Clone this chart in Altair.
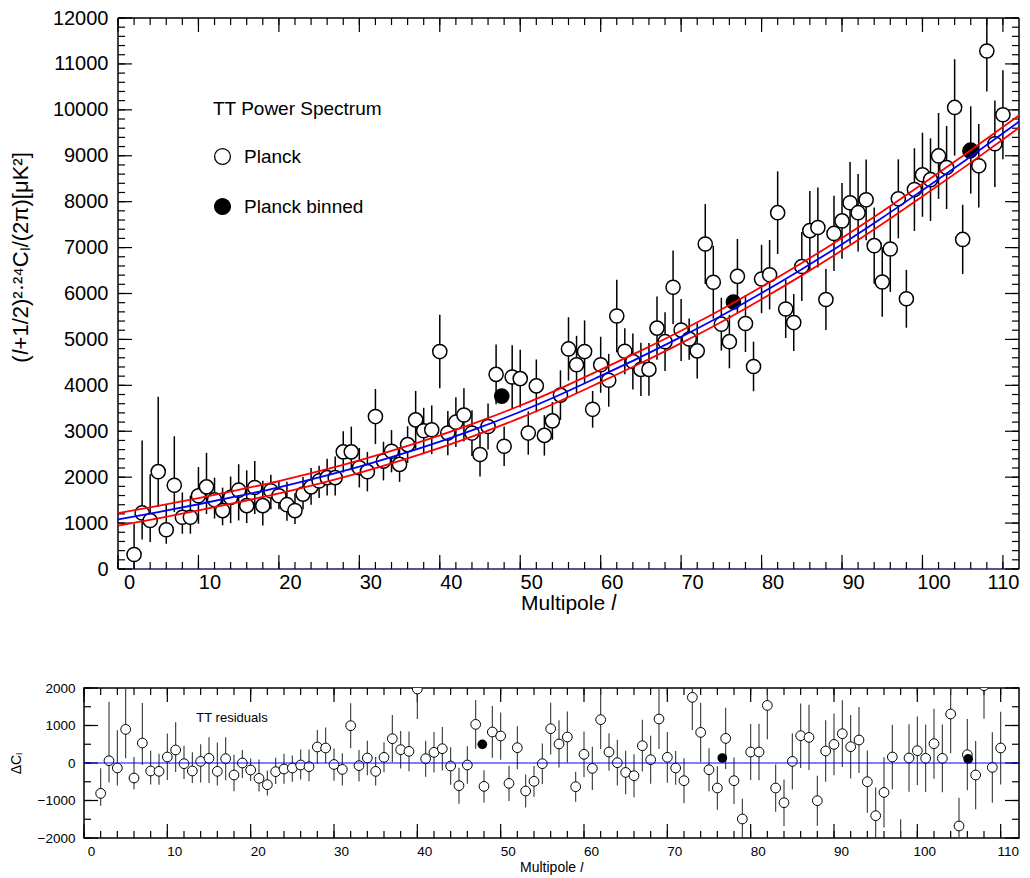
import altair as alt
import pandas as pd

# ---------------- data ----------------
ell = list(range(2, 111))
tt = [316, 1221, 1056, 2120, 855, 1825, 1128, 1128, 1595, 1789,
      1509, 1272, 1559, 1717, 1380, 1775, 1380, 1703, 1595, 1401,
      1272, 1631, 1789, 1918, 1990, 1990, 2551, 2551, 2206, 2120,
      3320, 2350, 2565, 2278, 2709, 3248, 3011, 3032, 4735, 2960,
      3198, 3355, 2960, 2493, 3104, 4239, 2673, 4182, 4146, 2960,
      3988, 2910, 3226, 3787, 4793, 4448, 4735, 3478, 4448, 4110,
      5511, 4742, 4519, 4347, 4347, 5246, 4951, 6136, 5203, 5008,
      4750, 7078, 6244, 5332, 4951, 6373, 5346, 4411, 6316, 6409,
      7760, 5662, 5367, 6589, 7370, 7437, 5870, 7308, 7581, 7976,
      7760, 8040, 7042, 6251, 6970, 8062, 5885, 8263, 8586, 8479,
      8996, 8745, 10052, 7178, 9126, 8781, 11281, 9262, 9894]
err_minus = [330, 580, 470, 770, 305, 585, 360, 360, 610, 590,
             410, 320, 560, 660, 380, 575, 430, 400, 295, 350,
             290, 330, 390, 370, 390, 390, 450, 400, 430, 430,
             600, 420, 460, 380, 400, 630, 500, 530, 800, 480,
             540, 580, 500, 480, 500, 650, 430, 690, 630, 470,
             575, 440, 410, 540, 690, 630, 680, 400, 610, 575,
             790, 500, 610, 580, 575, 690, 640, 800, 675, 450,
             600, 870, 790, 575, 580, 815, 620, 540, 745, 755,
             900, 630, 620, 750, 860, 870, 665, 820, 825, 890,
             845, 880, 830, 755, 935, 860, 630, 900, 915, 900,
             935, 905, 1050, 755, 950, 910, 880, 940, 970]
err_plus = [670, 1575, 1005, 1630, 560, 1065, 540, 470, 625, 740,
            480, 500, 455, 565, 770, 575, 540, 350, 305, 500,
            380, 370, 410, 330, 410, 460, 450, 550, 430, 430,
            600, 420, 460, 380, 400, 630, 500, 530, 800, 480,
            540, 580, 500, 480, 500, 650, 430, 690, 630, 470,
            575, 440, 410, 540, 690, 630, 680, 400, 610, 575,
            790, 500, 610, 580, 575, 690, 640, 800, 675, 450,
            600, 870, 790, 575, 580, 815, 620, 540, 745, 755,
            900, 630, 620, 750, 860, 870, 665, 820, 825, 890,
            845, 880, 830, 755, 935, 860, 630, 900, 915, 900,
            935, 905, 1050, 755, 950, 910, 880, 940, 970]
residual = [-810, 61, -133, 897, -400, 533, -213, -222, 160, 347,
            -18, -213, 43, 124, -222, 115, -320, 0, -187, -409,
            -578, -231, -160, -133, -53, -98, 427, 400, -40, -170,
            995, -71, 133, -223, 151, 648, 355, 311, 1973, 115,
            284, 381, -80, -605, -53, 1030, -623, 827, 720, -543,
            408, -747, -489, -18, 915, 507, 693, -632, 231, -143,
            1155, 293, 8, -251, -339, 461, 88, 1173, 151, -133,
            -472, 1750, 816, -179, -667, 656, -472, -1493, 293, 293,
            1536, -667, -1059, 43, 728, 683, -1005, 320, 496, 781,
            435, 613, -499, -1405, -784, 160, -2130, 133, 328, 124,
            515, 124, 1307, -1680, 221, -320, 2061, -117, 400]

binned_ell_top = [47.7, 76.5, 105.9]
binned_tt = [3765, 5813, 9104]
binned_ell_res = [47.8, 76.6, 106.1]
binned_res = [497, 133, 107]

model_ell = [0, 5, 10, 15, 20, 25, 30, 35, 40, 45, 50, 55, 60, 65, 70,
             75, 80, 85, 90, 95, 100, 105, 110, 112]
model_mid = [1080, 1240, 1410, 1590, 1780, 1995, 2230, 2490, 2775, 3085,
             3425, 3800, 4205, 4620, 5055, 5515, 6010, 6530, 7075, 7650,
             8250, 8860, 9490, 9745]
model_upper = [1215, 1375, 1545, 1725, 1915, 2130, 2365, 2625, 2910, 3220,
               3560, 3935, 4340, 4755, 5190, 5650, 6145, 6665, 7210, 7785,
               8385, 8995, 9625, 9880]
model_lower = [945, 1105, 1275, 1455, 1645, 1860, 2095, 2355, 2640, 2950,
               3290, 3665, 4070, 4485, 4920, 5380, 5875, 6395, 6940, 7515,
               8115, 8725, 9355, 9610]

x_major = list(range(0, 111, 10))
x_minor = list(range(0, 111, 2))
y_major_top = list(range(0, 12001, 1000))
y_minor_top = list(range(0, 12001, 200))
y_major_res = list(range(-2000, 2001, 1000))
y_minor_res = list(range(-2000, 2001, 500))

FONT = "Liberation Sans"
W1, H1 = 935, 551          # top panel drawn inside a 935-wide area
INSET = 34                 # the top panel's frame starts 34 px in
W2, H2 = 935, 150

# ---------------- tables ----------------
pts = pd.DataFrame({"l": ell, "value": tt, "em": err_minus, "ep": err_plus,
                    "res": residual})
pts["lo"] = pts["value"] - pts["em"]
pts["hi"] = pts["value"] + pts["ep"]
pts["rlo"] = pts["res"] - pts["em"]
pts["rhi"] = pts["res"] + pts["ep"]
pts["series"] = "Planck"
binned_top = pd.DataFrame({"l": binned_ell_top, "value": binned_tt,
                           "series": "Planck binned"})
top_points = pd.concat([pts[["l", "value", "series"]], binned_top])
model = pd.DataFrame({"l": model_ell, "mid": model_mid, "up": model_upper,
                      "low": model_lower})
binned_r = pd.DataFrame({"l": binned_ell_res, "res": binned_res})

# ---------------- top chart ----------------
x_lo = -INSET * 116.2236 / W1
xs1 = alt.Scale(domain=[x_lo, 112], nice=False, zero=False)
ys1 = alt.Scale(domain=[0, 12000], nice=False, zero=False)
xaxis1 = alt.Axis(values=x_major, ticks=False, grid=False, domain=False,
                  labelFontSize=20,
                  labelOffset={"condition": {"test": "datum.value >= 110",
                                             "value": 16}, "value": 11},
                  labelAlign={"condition": {"test": "datum.value >= 110",
                                            "value": "right"},
                              "value": "center"},
                  labelPadding=3,
                  labelFlush=False, labelOverlap=False, labelColor="black",
                  title="Multipole 𝑙", titleFontSize=21,
                  titleFontWeight="normal", titlePadding=0,
                  titleColor="black", titleX=484, format="d")
yaxis1 = alt.Axis(values=y_major_top, ticks=False, grid=False, domain=False,
                  offset=-INSET,
                  labelFontSize=20, labelPadding=10, labelColor="black",
                  labelOverlap=False, format="d",
                  title="(𝑙+1/2)²·²⁴Cₗ/(2π)[μK²]", titleFontSize=22,
                  titleFontWeight="normal", titleColor="black",
                  titlePadding=20, minExtent=66, maxExtent=66, titleY=239)
X1 = alt.X("l:Q", scale=xs1, axis=xaxis1)


def Y1(field):
    return alt.Y(field, scale=ys1, axis=yaxis1)


def xtick_layers(X, H, major_len, minor_len):
    out = []
    for vals, ln in ((x_minor, minor_len), (x_major, major_len)):
        df = pd.DataFrame({"l": vals})
        out.append(alt.Chart(df).mark_rule(color="black", strokeWidth=1.2)
                   .encode(x=X, y=alt.value(H), y2=alt.value(H - ln)))
        out.append(alt.Chart(df).mark_rule(color="black", strokeWidth=1.2)
                   .encode(x=X, y=alt.value(0), y2=alt.value(ln)))
    return out


def ytick_layers(Yf, field, x_left, x_right, vals_minor, vals_major,
                 major_len, minor_len):
    out = []
    for vals, ln in ((vals_minor, minor_len), (vals_major, major_len)):
        df = pd.DataFrame({field: vals})
        out.append(alt.Chart(df).mark_rule(color="black", strokeWidth=1.2)
                   .encode(y=Yf, x=alt.value(x_left),
                           x2=alt.value(x_left + ln)))
        out.append(alt.Chart(df).mark_rule(color="black", strokeWidth=1.2)
                   .encode(y=Yf, x=alt.value(x_right),
                           x2=alt.value(x_right - ln)))
    return out


frame_df = pd.DataFrame({"l": [0], "l2": [112], "value": [0],
                         "value2": [12000]})
top_layers = []
# frame of the top panel
top_layers.append(alt.Chart(frame_df).mark_rule(color="black",
                                                strokeWidth=1.5)
                  .encode(x=X1, y=alt.value(0), y2=alt.value(H1)))
top_layers.append(alt.Chart(frame_df).mark_rule(color="black",
                                                strokeWidth=1.5)
                  .encode(x=alt.X("l2:Q", scale=xs1, axis=xaxis1),
                          y=alt.value(0), y2=alt.value(H1)))
top_layers.append(alt.Chart(frame_df).mark_rule(color="black",
                                                strokeWidth=1.5)
                  .encode(x=X1, x2="l2:Q", y=alt.value(0)))
top_layers.append(alt.Chart(frame_df).mark_rule(color="#1c1c70",
                                                strokeWidth=1.6)
                  .encode(x=X1, x2="l2:Q", y=alt.value(H1)))
top_layers += xtick_layers(X1, H1, 14, 7)
top_layers += ytick_layers(Y1("value:Q"), "value", INSET, W1, y_minor_top,
                           y_major_top, 14, 7)
top_layers.append(
    alt.Chart(pts).mark_rule(color="black", strokeWidth=1.5, clip=True)
    .encode(x=X1, y=Y1("lo:Q"), y2="hi:Q"))
top_layers.append(
    alt.Chart(top_points).mark_circle(size=200, stroke="black",
                                      strokeWidth=1.5, opacity=1, clip=True)
    .encode(x=X1, y=Y1("value:Q"),
            fill=alt.Fill("series:N",
                          scale=alt.Scale(domain=["Planck", "Planck binned"],
                                          range=["white", "black"]),
                          legend=alt.Legend(
                              title="TT Power Spectrum", orient="none",
                              legendX=129, legendY=82, padding=0,
                              titleFontSize=19, titleFontWeight="normal",
                              titleColor="black", titleFont=FONT,
                              labelFontSize=19, labelColor="black",
                              labelFont=FONT, symbolType="circle",
                              symbolSize=250, symbolStrokeColor="black",
                              symbolStrokeWidth=1.3, rowPadding=27,
                              titlePadding=28, labelOffset=12))))
for fld, col in (("up", "#ff0000"), ("low", "#ff0000"), ("mid", "#0000ff")):
    top_layers.append(
        alt.Chart(model).mark_line(color=col, strokeWidth=1.8,
                                   interpolate="monotone", clip=True)
        .encode(x=X1, y=Y1(f"{fld}:Q")))

top = alt.layer(*top_layers).properties(
    width=W1, height=H1, view=alt.ViewBackground(stroke="transparent"))

# ---------------- residual chart ----------------
xs2 = alt.Scale(domain=[0, 112.2], nice=False, zero=False)
ys2 = alt.Scale(domain=[-2000, 2000], nice=False, zero=False)
xaxis2 = alt.Axis(values=x_major, ticks=False, grid=False, domain=False,
                  labelFontSize=13.5, labelOffset=7, labelPadding=6,
                  labelFlush=False, labelOverlap=False, labelColor="black",
                  title="Multipole 𝑙", titleFontSize=14,
                  titleFontWeight="normal", titlePadding=3,
                  titleColor="black", format="d")
yaxis2 = alt.Axis(values=y_major_res, ticks=False, grid=False, domain=False,
                  labelFontSize=13.5, labelPadding=9, labelColor="black",
                  labelOverlap=False, format="d",
                  title="ΔCₗ", titleFontSize=14, titleFontWeight="normal",
                  titleColor="black", titlePadding=10, minExtent=51,
                  maxExtent=51)
X2 = alt.X("l:Q", scale=xs2, axis=xaxis2)


def Y2(field):
    return alt.Y(field, scale=ys2, axis=yaxis2)


res_layers = []
res_layers += xtick_layers(X2, H2, 14, 7)
res_layers += ytick_layers(Y2("res:Q"), "res", 0, W2, y_minor_res,
                           y_major_res, 14, 7)
res_layers.append(
    alt.Chart(pts).mark_rule(color="#333333", strokeWidth=1.1, clip=True)
    .encode(x=X2, y=Y2("rlo:Q"), y2="rhi:Q"))
res_layers.append(
    alt.Chart(pts).mark_circle(size=95, stroke="black", strokeWidth=1,
                               fill="white", opacity=1, clip=True)
    .encode(x=X2, y=Y2("res:Q")))
res_layers.append(
    alt.Chart(binned_r).mark_circle(size=95, color="black", opacity=1,
                                    clip=True)
    .encode(x=X2, y=Y2("res:Q")))
res_layers.append(
    alt.Chart(pd.DataFrame({"res": [0]})).mark_rule(color="#0000ff",
                                                    strokeWidth=1)
    .encode(y=Y2("res:Q")))
res_layers.append(
    alt.Chart(pd.DataFrame({"t": ["TT residuals"]}))
    .mark_text(fontSize=13, font=FONT, color="black", align="center",
               baseline="middle")
    .encode(text="t:N", x=alt.value(148), y=alt.value(30)))

resid = alt.layer(*res_layers).properties(
    width=W2, height=H2, view=alt.ViewBackground(stroke="black",
                                                 strokeWidth=1.5))

chart = (alt.vconcat(top, resid, spacing=66)
         .properties(padding={"left": 0, "top": -1, "right": 0,
                              "bottom": 0})
         .configure(font=FONT))

chart.save("out.html", embed_options={"renderer": "svg", "actions": False})
